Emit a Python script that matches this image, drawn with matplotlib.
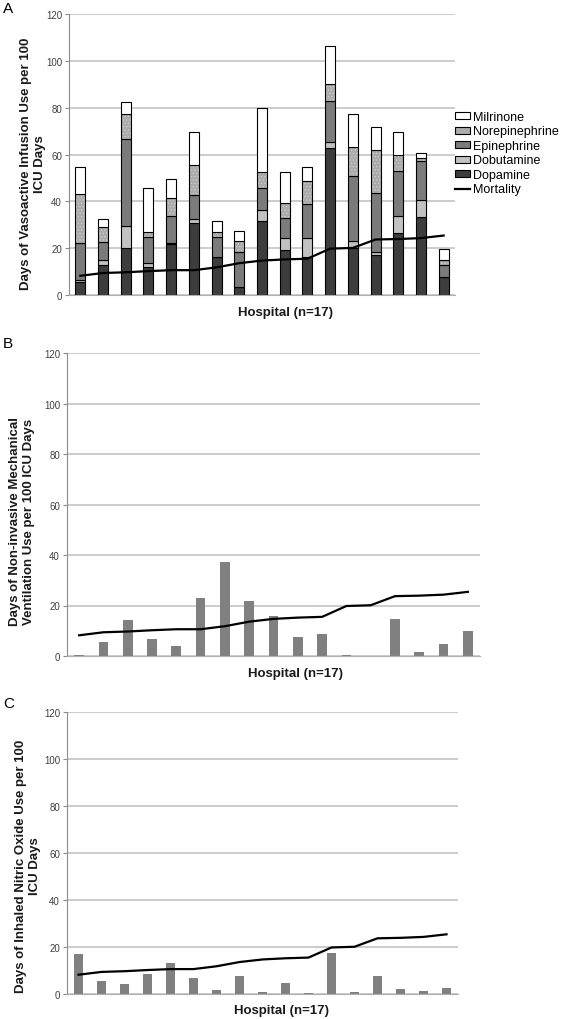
import numpy as np
import matplotlib
matplotlib.use('Agg')
from matplotlib import pyplot as plt
from matplotlib.patches import Patch
from matplotlib.lines import Line2D

plt.rcParams['font.family'] = ['Liberation Sans', 'DejaVu Sans']
plt.rcParams['hatch.linewidth'] = 0.5

# 17 hospitals, ordered by mortality
hospitals = np.arange(1, 18)

# panel A: days of vasoactive infusion per 100 ICU days (stack segments)
dopamine = [5.4, 13.0, 20.2, 11.8, 21.8, 30.7, 16.1, 3.4, 31.6, 19.2, 16.4, 62.8, 20.1, 17.1, 26.3, 33.3, 7.7]
dobutamine = [1.0, 1.9, 9.4, 1.9, 0.5, 1.8, 0.0, 0.0, 4.8, 5.3, 8.1, 2.4, 2.8, 1.1, 7.3, 7.3, 0.0]
epinephrine = [15.8, 7.9, 37.0, 10.9, 11.4, 10.3, 8.8, 14.8, 9.3, 8.2, 14.2, 17.8, 27.9, 25.4, 19.2, 16.5, 5.3]
norepinephrine = [20.8, 6.1, 10.5, 2.2, 7.6, 12.7, 2.1, 4.7, 6.7, 6.4, 10.1, 7.1, 12.4, 18.5, 7.0, 1.3, 1.9]
milrinone = [11.8, 3.6, 5.3, 18.9, 8.2, 14.0, 4.7, 4.3, 27.3, 13.3, 5.7, 16.4, 13.9, 9.5, 9.7, 2.1, 4.6]

# mortality line (same on all three panels)
mortality = [8.2, 9.4, 9.7, 10.2, 10.6, 10.6, 11.8, 13.6, 14.7, 15.2, 15.5, 19.8, 20.1, 23.7, 23.9, 24.3, 25.4]

# panel B: non-invasive ventilation, panel C: inhaled nitric oxide
niv = [0.5, 5.4, 14.2, 6.7, 4.0, 22.8, 37.4, 21.7, 15.7, 7.4, 8.9, 0.3, 0.0, 14.8, 1.6, 4.6, 9.9]
ino = [16.9, 5.4, 4.3, 8.5, 13.0, 6.7, 1.8, 7.8, 0.9, 4.7, 0.3, 17.6, 0.9, 7.8, 2.3, 1.3, 2.6]

yticks = [0, 20, 40, 60, 80, 100, 120]

W, H = 562, 1020
fig = plt.figure(figsize=(W / 100, H / 100), dpi=100)


def box(l, r, t, b):
    return [l / W, 1 - b / H, (r - l) / W, (b - t) / H]


def style(ax):
    ax.set_ylim(0, 120)
    ax.set_xlim(0.5, 17.5)
    ax.set_yticks(yticks)
    ax.yaxis.grid(True, color='#c4c4c4', lw=1.2)
    ax.set_axisbelow(True)
    for s in ['top', 'right']:
        ax.spines[s].set_visible(False)
    ax.spines['left'].set_color('#8c8c8c')
    ax.spines['bottom'].set_color('#b0b0b0')
    ax.set_xticks([])
    ax.tick_params(axis='y', colors='#8c8c8c', labelcolor='#404040',
                   labelsize=7, length=3, width=0.8, pad=2)


# --- panel A ---
axA = fig.add_axes(box(69, 455, 15, 296))
style(axA)
w = 0.44
bottom = np.zeros(17)
series = [(dopamine, '#3d3d3d', None), (dobutamine, '#c2c2c2', None),
          (epinephrine, '#7b7b7b', None), (norepinephrine, '#ababab', '.....'),
          (milrinone, 'white', None)]
for vals, col, hat in series:
    vals = np.array(vals)
    if hat:
        axA.bar(hospitals, vals, w, bottom=bottom, color=col, hatch=hat,
                edgecolor='#cfcfcf', lw=0)
        axA.bar(hospitals, vals, w, bottom=bottom, fill=False,
                edgecolor='black', lw=0.8)
    else:
        axA.bar(hospitals, vals, w, bottom=bottom, color=col,
                edgecolor='black', lw=0.8)
    bottom += vals
axA.plot(hospitals, mortality, color='black', lw=1.6)

handles = [Patch(facecolor='white', edgecolor='black', lw=0.8, label='Milrinone'),
           Patch(facecolor='#ababab', edgecolor='black', lw=0.8, label='Norepinephrine'),
           Patch(facecolor='#7b7b7b', edgecolor='black', lw=0.8, label='Epinephrine'),
           Patch(facecolor='#c2c2c2', edgecolor='black', lw=0.8, label='Dobutamine'),
           Patch(facecolor='#3d3d3d', edgecolor='black', lw=0.8, label='Dopamine'),
           Line2D([], [], color='black', lw=1.6, label='Mortality')]
fig.legend(handles=handles, loc='upper left', bbox_to_anchor=(455 / W, 1 - 112 / H),
           frameon=False, fontsize=9, borderpad=0, borderaxespad=0,
           handlelength=1.2, handleheight=0.5, handletextpad=0.25, labelspacing=0.2)

# --- panel B ---
axB = fig.add_axes(box(67, 480, 354, 657))
style(axB)
axB.bar(hospitals, niv, 0.4, color='#808080')
axB.plot(hospitals, mortality, color='black', lw=1.6)

# --- panel C ---
axC = fig.add_axes(box(67, 458, 713, 995))
style(axC)
axC.bar(hospitals, ino, 0.39, color='#808080')
axC.plot(hospitals, mortality, color='black', lw=1.6)

# axis titles and panel letters
lab = dict(fontsize=9.5, fontweight='bold', color='#1a1a1a')
fig.text(286 / W, 1 - 313 / H, 'Hospital (n=17)', ha='center', va='center', **lab)
fig.text(295 / W, 1 - 674 / H, 'Hospital (n=17)', ha='center', va='center', **lab)
fig.text(282 / W, 1 - 1011 / H, 'Hospital (n=17)', ha='center', va='center', **lab)
fig.text(33 / W, 1 - 164 / H, 'Days of Vasoactive Infusion Use per 100\nICU Days',
         rotation=90, ha='center', va='center', multialignment='center', **lab)
fig.text(22 / W, 1 - 522 / H, 'Days of Non-invasive Mechanical\nVentilation Use per 100 ICU Days',
         rotation=90, ha='center', va='center', multialignment='center', **lab)
fig.text(28 / W, 1 - 866 / H, 'Days of Inhaled Nitric Oxide Use per 100\nICU Days',
         rotation=90, ha='center', va='center', multialignment='center', **lab)
for letter, y in [('A', 2), ('B', 337), ('C', 697)]:
    fig.text(3 / W, 1 - y / H, letter, ha='left', va='top', fontsize=11)

fig.savefig('out.png', dpi=100)
